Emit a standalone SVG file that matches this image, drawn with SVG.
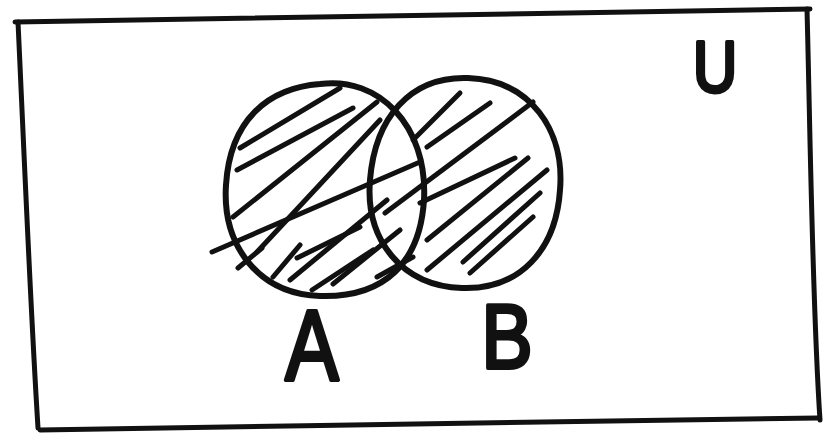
<svg xmlns="http://www.w3.org/2000/svg" width="826" height="447" viewBox="0 0 826 447">
<style>
.s{fill:none;stroke:#111;stroke-linecap:round;stroke-linejoin:round}
.frame{stroke-width:5}
.circ{stroke-width:6}
.h{stroke-width:5}
.t{font-family:"Liberation Sans",Arial,sans-serif;font-weight:normal;fill:#111;stroke:#111;stroke-width:4;stroke-linejoin:round}
</style>
<rect width="826" height="447" fill="#fff"/>
<g id="universe">
<path class="s frame" d="M15,22 C200,20 500,14 810,9"/>
<path class="s frame" d="M807,9 C810,120 812,300 820,420"/>
<path class="s frame" d="M818,418 C600,420 300,426 40,430"/>
<path class="s frame" d="M18,22 C24,150 30,300 38,428"/>
<text class="t" x="715" y="92" font-size="72" text-anchor="middle" transform="translate(715 65) scale(0.85 1) translate(-715 -65)">U</text>
</g>
<g id="setA">
<path class="s circ" d="M320,84 C378,76 428,125 424,200 C420,262 385,298 320,296 C258,294 222,245 226,185 C230,120 268,88 320,84 Z"/>
<g class="hatch">
<path class="s h" d="M240,148 L340,88"/>
<path class="s h" d="M237,170 L353,108"/>
<path class="s h" d="M233,217 L377,102"/>
<path class="s h" d="M257,252 L380,120"/>
<path class="s h" d="M212,252 L420,162"/>
<path class="s h" d="M297,258 L360,227"/>
<path class="s h" d="M290,280 L387,200"/>
<path class="s h" d="M312,290 L373,250"/>
<path class="s h" d="M333,284 L400,230"/>
<path class="s h" d="M273,277 L300,245"/>
<path class="s h" d="M238,268 L262,248"/>
</g>
<text class="t" x="312" y="380" font-size="100" text-anchor="middle" transform="translate(312 340) scale(0.8 1) translate(-312 -340)">A</text>
</g>
<g id="setB">
<path class="s circ" d="M468,78 C530,80 565,130 560,190 C556,250 520,290 462,288 C402,286 365,240 370,180 C375,118 410,76 468,78 Z"/>
<g class="hatch">
<path class="s h" d="M413,140 L460,93"/>
<path class="s h" d="M427,147 L490,103"/>
<path class="s h" d="M385,213 L533,102"/>
<path class="s h" d="M420,203 L515,158"/>
<path class="s h" d="M427,240 L528,158"/>
<path class="s h" d="M427,270 L547,170"/>
<path class="s h" d="M463,262 L540,193"/>
<path class="s h" d="M470,273 L533,217"/>
<path class="s h" d="M377,277 L413,257"/>
</g>
<text class="t" x="507" y="368" font-size="90" text-anchor="middle" transform="translate(507 335) scale(0.85 1) translate(-507 -335)">B</text>
</g>
</svg>
